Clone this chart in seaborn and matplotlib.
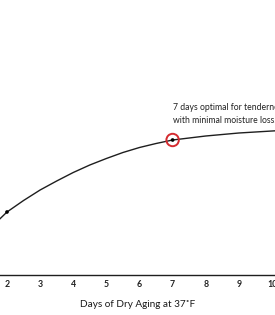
import matplotlib
matplotlib.use("Agg")
import matplotlib.pyplot as plt
import seaborn as sns

sns.set_style("white")
plt.rcParams["font.family"] = ["Lato", "DejaVu Sans"]

# curve (tenderness, arbitrary units)
days = [1.5, 2, 2.5, 3, 3.5, 4, 4.5, 5, 5.5, 6, 6.5, 7, 7.5, 8, 8.5, 9, 9.5, 10, 10.5]
tenderness = [47, 63, 74.5, 85, 94, 102.5, 110, 116.5, 122.5, 127.5, 131.5, 135, 137, 139, 140.5, 142, 143, 144, 145]

marker_days = [2, 7]
marker_vals = [63, 135]
optimal_day = 7
optimal_val = 135

tick_days = [2, 3, 4, 5, 6, 7, 8, 9, 10]
note = "7 days optimal for tenderness\nwith minimal moisture loss."
xlabel = "Days of Dry Aging at 37\u02daF"

fig = plt.figure(figsize=(2.75, 3.15), dpi=100)
ax = fig.add_axes([0, 40 / 315, 1, 275 / 315])

sns.lineplot(x=days, y=tenderness, ax=ax, color="#1e1e1e", linewidth=1.0)
sns.scatterplot(x=marker_days, y=marker_vals, ax=ax, color="black", s=7, edgecolor="none", zorder=3)
ax.scatter([optimal_day], [optimal_val], s=80, facecolor="none", edgecolor="#d42a2f", linewidth=1.4, zorder=4)

ax.text(optimal_day, 172, note, fontsize=6.2, color="#222222", ha="left", va="top", linespacing=1.55)

ax.set_xlim(1.789, 10.091)
ax.set_ylim(0, 275)
ax.set_xticks(tick_days)
ax.set_yticks([])
ax.tick_params(axis="x", direction="in", length=4.3, width=0.9, color="#1e1e1e", pad=3.5, labelsize=6.3, labelcolor="#222222")
for lbl in ax.get_xticklabels():
    lbl.set_fontweight("bold")
for s in ["top", "left", "right"]:
    ax.spines[s].set_visible(False)
ax.spines["bottom"].set_linewidth(1.0)
ax.spines["bottom"].set_color("#1e1e1e")
ax.set_xlabel(xlabel, fontsize=7.2, color="#1a1a1a", labelpad=8)

fig.savefig("out.png", dpi=100)
